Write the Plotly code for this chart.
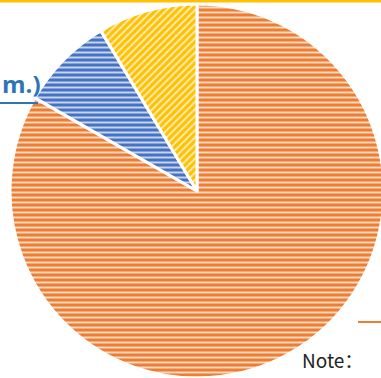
import plotly.graph_objects as go

# Share of each category (percent), drawn clockwise from 12 o'clock
categories = ["Orange", "Blue", "Yellow"]
shares = [83.3, 8.1, 8.6]
colors = ["#ED7D31", "#4472C4", "#FFC000"]
hatch_shapes = ["-", "-", "/"]

W, H = 400, 400  # canvas is larger than the viewport so the pie runs off the edges


def px_x(x):
    return x / W


def px_y(y):
    return 1 - y / H


fig = go.Figure(
    go.Pie(
        labels=categories,
        values=shares,
        sort=False,
        direction="clockwise",
        rotation=0,
        textinfo="none",
        hoverinfo="label+percent",
        showlegend=False,
        marker=dict(
            colors=colors,
            line=dict(color="white", width=3),
            pattern=dict(
                shape=hatch_shapes,
                fgcolor="white",
                fgopacity=0.7,
                size=5,
                solidity=0.4,
                fillmode="overlay",
            ),
        ),
        domain=dict(x=[px_x(10), px_x(384)], y=[px_y(378), px_y(4)]),
    )
)

shapes = [
    # gold rule along the top edge
    dict(type="line", xref="paper", yref="paper",
         x0=0, x1=1, y0=px_y(1), y1=px_y(1),
         line=dict(color="#FFC000", width=3)),
    # leader line under the blue label
    dict(type="line", xref="paper", yref="paper",
         x0=0, x1=px_x(38), y0=px_y(103), y1=px_y(103),
         line=dict(color="#2E75B6", width=2)),
    # leader line toward the orange label
    dict(type="line", xref="paper", yref="paper",
         x0=px_x(358), x1=1, y0=px_y(322), y1=px_y(322),
         line=dict(color="#ED7D31", width=2)),
]

annotations = [
    dict(text="<b>m.)</b>", xref="paper", yref="paper",
         x=px_x(43), y=px_y(83), xanchor="right", yanchor="middle",
         showarrow=False,
         font=dict(family="Open Sans", size=24, color="#2E75B6")),
    dict(text="Note：", xref="paper", yref="paper",
         x=px_x(300), y=px_y(359), xanchor="left", yanchor="middle",
         showarrow=False,
         font=dict(family="Noto Sans CJK SC", size=19, color="#222222")),
]

fig.update_layout(
    width=W,
    height=H,
    margin=dict(l=0, r=0, t=0, b=0),
    paper_bgcolor="white",
    plot_bgcolor="white",
    shapes=shapes,
    annotations=annotations,
)

fig.write_html(
    "out.html",
    post_script=(
        "document.body.style.margin='0';"
        "document.body.style.overflow='hidden';"
        "document.documentElement.style.overflow='hidden';"
    ),
)
